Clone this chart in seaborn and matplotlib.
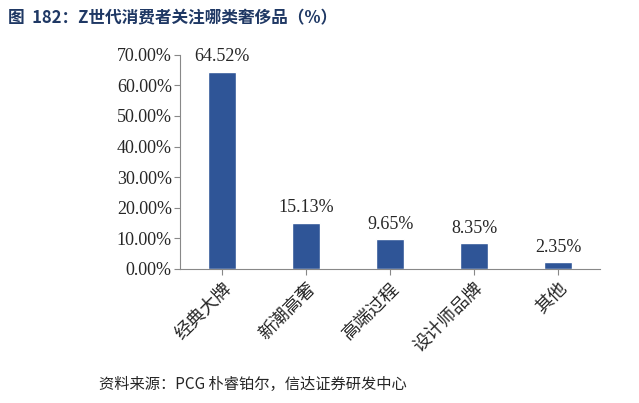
import matplotlib
matplotlib.use("Agg")
import matplotlib.pyplot as plt
import seaborn as sns
import pandas as pd

categories = ["经典大牌", "新潮高奢", "高端过程", "设计师品牌", "其他"]
values = [64.52, 15.13, 9.65, 8.35, 2.35]
yticks = [0, 10, 20, 30, 40, 50, 60, 70]

sns.set_style("white")
plt.rcParams['font.family'] = ['Noto Sans CJK SC', 'DejaVu Sans']

fig = plt.figure(figsize=(6.39, 4.03), dpi=100)
ax = fig.add_axes([0.282, 0.333, 0.657, 0.531])
df = pd.DataFrame({"cat": categories, "val": values})
sns.barplot(data=df, x="cat", y="val", color="#2F5597", saturation=1, width=0.33, ax=ax)
ax.set_ylim(0, 70)
ax.set_xlim(-0.5, 4.5)
ax.set_yticks(yticks)
ax.set_yticklabels([f"{t:.2f}%" for t in yticks], family="Times New Roman" if False else "Liberation Serif", fontsize=13)
ax.set_xticks(range(len(categories)))
ax.set_xticklabels(categories, rotation=45, ha="right", rotation_mode="anchor", fontsize=13)
ax.set_xlabel(""); ax.set_ylabel("")
for s in ["top", "right"]:
    ax.spines[s].set_visible(False)
for s in ["left", "bottom"]:
    ax.spines[s].set_color("#888888")
ax.tick_params(axis="y", left=True, length=4, color="#888888", pad=2)
ax.tick_params(axis="x", bottom=True, length=4, color="#888888")
for i, v in enumerate(values):
    ax.text(i, v + 2, f"{v:.2f}%", ha="center", va="bottom", family="Liberation Serif", fontsize=13)

fig.text(0.012, 0.955, "图  182：Z世代消费者关注哪类奢侈品（%）", fontsize=12, fontweight="bold", color="#1F3864", va="center")
fig.text(0.155, 0.045, "资料来源：PCG 朴睿铂尔，信达证券研发中心", fontsize=11, style="italic", va="center")
fig.savefig("out.png", dpi=100)
